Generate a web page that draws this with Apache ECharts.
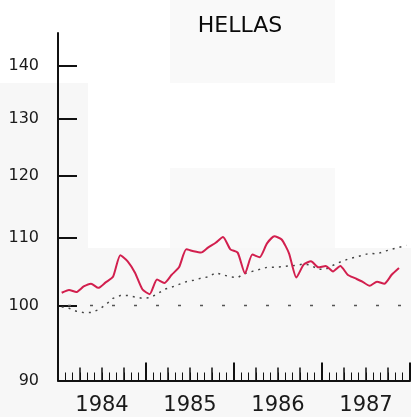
<!DOCTYPE html>
<html>
<head>
<meta charset="utf-8">
<script src="https://cdn.jsdelivr.net/npm/echarts@6/dist/echarts.min.js"></script>
<style>
html, body {margin: 0; padding: 0; background: #fff;}
#chart {width: 411px; height: 417px;}
</style>
</head>
<body>
<div id="chart"></div>
<script>
var years = ['1984', '1985', '1986', '1987'];
var yLabels = [90, 100, 110, 120, 130, 140];
var yTicks = [100, 110, 120, 130, 140];
// monatswerte ab jan 1984
var hellas = [101.8, 102.2, 101.9, 102.7, 103.1, 102.5, 103.3, 104.1, 107.3, 106.4, 104.7, 102.3,
    101.6, 103.7, 103.2, 104.4, 105.5, 108.2, 107.9, 107.7, 108.5, 109.2, 110.1, 108.2,
    107.7, 104.6, 107.4, 107.0, 109.1, 110.2, 109.7, 107.6, 104.0, 105.9, 106.4, 105.5,
    105.7, 104.9, 105.7, 104.4, 103.9, 103.4, 102.8, 103.4, 103.1, 104.4, 105.4];
var trend = [99.8, 99.6, 99.2, 99.0, 99.0, 99.4, 100.1, 101.0, 101.4, 101.4, 101.2, 101.0,
    101.1, 101.6, 102.3, 102.6, 103.0, 103.4, 103.6, 103.9, 104.1, 104.7, 104.4, 104.1,
    104.0, 104.6, 104.9, 105.2, 105.5, 105.5, 105.6, 105.7, 105.8, 106.0, 105.8, 105.2,
    105.2, 105.8, 106.3, 106.7, 107.0, 107.3, 107.6, 107.5, 107.9, 108.2, 108.5, 108.8];
var base = 100;

var months = years.length * 12;

function toPoints(arr) {
    var d = [];
    for (var i = 0; i < arr.length; i++) {
        d.push([i + 0.5, arr[i]]);
    }
    return d;
}

var chart = echarts.init(document.getElementById('chart'));

// x-achsen uebereinander: monat, quartal, jahr
function xAxisDef(interval, len, width, showLine) {
    return {
        type: 'value',
        position: 'bottom',
        min: 0,
        max: months,
        interval: interval,
        axisLine: {show: showLine, onZero: false, lineStyle: {color: '#111', width: 2}},
        axisTick: {show: true, inside: true, length: len, lineStyle: {color: '#111', width: width}},
        axisLabel: {show: false},
        splitLine: {show: false}
    };
}

var xMonth = xAxisDef(1, 8, 1, true);
xMonth.axisLabel = {
    show: true,
    customValues: [6, 18, 30, 42],
    margin: 15,
    color: '#1a1a1a',
    fontSize: 21,
    fontFamily: 'DejaVu Sans',
    formatter: function (v) {
        return years[Math.floor(v / 12)];
    }
};

var option = {
    backgroundColor: '#fff',
    animation: false,
    title: {
        text: 'HELLAS',
        left: 235,
        top: 10,
        textAlign: 'center',
        textStyle: {color: '#0a0a0a', fontSize: 22, fontWeight: 'normal', fontFamily: 'DejaVu Sans'}
    },
    graphic: [
        {type: 'rect', z: -100, shape: {x: 0, y: 83, width: 88, height: 334}, style: {fill: '#f7f7f7'}},
        {type: 'rect', z: -100, shape: {x: 170, y: 0, width: 165, height: 83}, style: {fill: '#f9f9f9'}},
        {type: 'rect', z: -100, shape: {x: 170, y: 168, width: 165, height: 80}, style: {fill: '#f9f9f9'}},
        {type: 'rect', z: -100, shape: {x: 88, y: 248, width: 323, height: 169}, style: {fill: '#f7f7f7'}}
    ],
    grid: {left: 58, right: 1, top: 33, bottom: 36.5, containLabel: false},
    xAxis: [
        xMonth,
        xAxisDef(3, 13, 1.5, false),
        xAxisDef(12, 18, 2, false)
    ],
    yAxis: {
        type: 'log',
        logBase: 10,
        min: 90,
        max: 146.6,
        axisLine: {show: true, lineStyle: {color: '#111', width: 2}},
        axisTick: {show: true, inside: true, length: 19, customValues: yTicks, lineStyle: {color: '#111', width: 2}},
        axisLabel: {
            show: true,
            customValues: yLabels,
            margin: 19,
            color: '#1a1a1a',
            fontSize: 16,
            fontFamily: 'DejaVu Sans',
            padding: [0, 0, 8, 0]
        },
        splitLine: {show: false}
    },
    series: [
        {
            name: 'base',
            type: 'line',
            data: [[0, base], [months, base]],
            showSymbol: false,
            silent: true,
            lineStyle: {color: '#555', width: 1.5, type: [3, 19], dashOffset: 12}
        },
        {
            name: 'trend',
            type: 'line',
            data: toPoints(trend),
            showSymbol: false,
            silent: true,
            lineStyle: {color: '#444', width: 1.5, type: [2, 5]}
        },
        {
            name: 'hellas',
            type: 'line',
            data: toPoints(hellas),
            showSymbol: false,
            silent: true,
            smooth: 0.2,
            lineStyle: {color: '#d21f4e', width: 2}
        }
    ]
};
chart.setOption(option);
</script>
</body>
</html>
